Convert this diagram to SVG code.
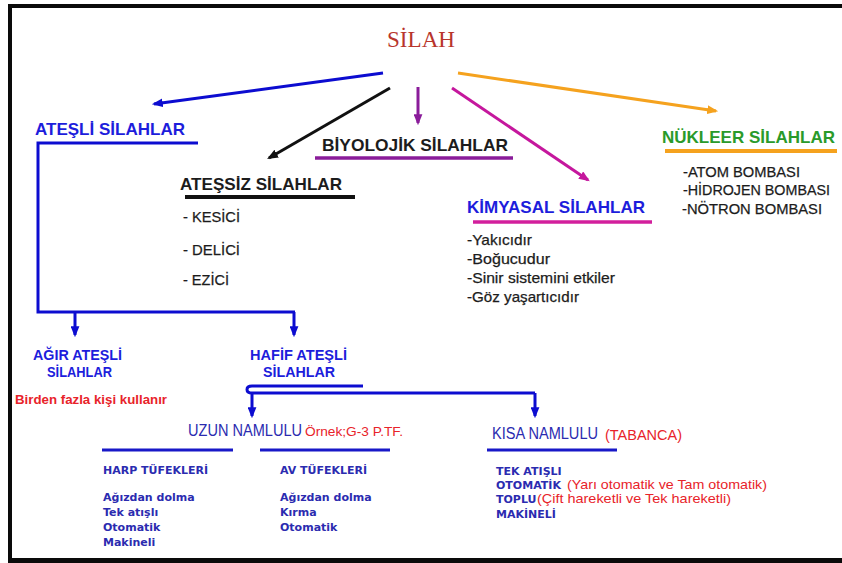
<svg xmlns="http://www.w3.org/2000/svg" width="842" height="563" viewBox="0 0 842 563">
<defs>
<style>
.t{font-family:"Liberation Sans",Arial,sans-serif}
.b{font-weight:bold}
.v{font-family:"DejaVu Sans",Verdana,sans-serif;font-weight:bold;font-size:11px}
.blue{fill:#1d1ddc}
.nav{fill:#2b2bb0}
.dk{fill:#1c1c1c}
.red{fill:#e8232a}
.ln{fill:none;stroke-width:3}
.semi{stroke:#1c1c1c;stroke-width:0.25}
</style>
<marker id="mBlue" viewBox="0 0 10 8" refX="8" refY="4" markerWidth="11" markerHeight="9" markerUnits="userSpaceOnUse" orient="auto"><path d="M0,0 L10,4 L0,8 z" fill="#0c0cd0"/></marker>
<marker id="mBlack" viewBox="0 0 10 8" refX="8" refY="4" markerWidth="11" markerHeight="9" markerUnits="userSpaceOnUse" orient="auto"><path d="M0,0 L10,4 L0,8 z" fill="#111"/></marker>
<marker id="mPurple" viewBox="0 0 10 8" refX="8" refY="4" markerWidth="11" markerHeight="9" markerUnits="userSpaceOnUse" orient="auto"><path d="M0,0 L10,4 L0,8 z" fill="#8a1c9a"/></marker>
<marker id="mMag" viewBox="0 0 10 8" refX="8" refY="4" markerWidth="11" markerHeight="9" markerUnits="userSpaceOnUse" orient="auto"><path d="M0,0 L10,4 L0,8 z" fill="#c5179d"/></marker>
<marker id="mOr" viewBox="0 0 10 8" refX="8" refY="4" markerWidth="11" markerHeight="9" markerUnits="userSpaceOnUse" orient="auto"><path d="M0,0 L10,4 L0,8 z" fill="#f5a21e"/></marker>
</defs>
<rect width="842" height="563" fill="#fff"/>
<g id="frame" fill="#0a0a0a">
<rect x="8" y="4" width="834" height="4"/>
<rect x="8" y="4" width="4" height="559"/>
<rect x="8" y="558" width="834" height="5"/>
</g>

<g id="connectors">
<path class="ln" stroke="#0c0cd0" d="M383,73 L154,104" marker-end="url(#mBlue)"/>
<path class="ln" stroke="#111" d="M390,88 L269,158" marker-end="url(#mBlack)"/>
<path class="ln" stroke="#8a1c9a" d="M418,87 V123" marker-end="url(#mPurple)"/>
<path class="ln" stroke="#c5179d" d="M452,88 L588,180" marker-end="url(#mMag)"/>
<path class="ln" stroke="#f5a21e" d="M458,73 L716,111" marker-end="url(#mOr)"/>
<path class="ln" stroke="#0c0cd0" d="M198,143 H38 V312 H295"/>
<path class="ln" stroke="#0c0cd0" d="M75,312 V335" marker-end="url(#mBlue)"/>
<path class="ln" stroke="#0c0cd0" d="M294,312 V335" marker-end="url(#mBlue)"/>
<path class="ln" stroke="#0c0cd0" d="M363,386 H252 Q247,386 247,389.5 Q247,393 252,393 H535"/>
<path class="ln" stroke="#0c0cd0" d="M252,393 V416" marker-end="url(#mBlue)"/>
<path class="ln" stroke="#0c0cd0" d="M535,393 V416" marker-end="url(#mBlue)"/>
</g>

<g id="silah">
<text x="387" y="47" font-family="'Liberation Serif','Times New Roman',serif" font-size="23" fill="#b8352c" textLength="68" lengthAdjust="spacingAndGlyphs">SİLAH</text>
</g>

<g id="atesli">
<text class="t b blue" x="35" y="135" font-size="17" textLength="150" lengthAdjust="spacingAndGlyphs">ATEŞLİ SİLAHLAR</text>
</g>

<g id="biyolojik">
<text class="t b dk" x="322" y="151" font-size="17" textLength="186" lengthAdjust="spacingAndGlyphs">BİYOLOJİK SİLAHLAR</text>
<path d="M315,158 H513" stroke="#8a1c9a" stroke-width="3.5"/>
</g>

<g id="atessiz">
<text class="t b dk" x="180" y="190" font-size="17" textLength="162" lengthAdjust="spacingAndGlyphs">ATEŞSİZ SİLAHLAR</text>
<path d="M185,197 H355" stroke="#111" stroke-width="4"/>
<text class="t dk semi" x="183" y="222" font-size="15" textLength="57" lengthAdjust="spacingAndGlyphs">- KESİCİ</text>
<text class="t dk semi" x="183" y="255" font-size="15" textLength="57" lengthAdjust="spacingAndGlyphs">- DELİCİ</text>
<text class="t dk semi" x="183" y="285" font-size="15" textLength="46" lengthAdjust="spacingAndGlyphs">- EZİCİ</text>
</g>

<g id="kimyasal">
<text class="t b blue" x="467" y="213" font-size="17" textLength="178" lengthAdjust="spacingAndGlyphs">KİMYASAL SİLAHLAR</text>
<path d="M473,222 H652" stroke="#d21f9c" stroke-width="3.5"/>
<text class="t dk semi" x="467" y="245" font-size="15" textLength="65" lengthAdjust="spacingAndGlyphs">-Yakıcıdır</text>
<text class="t dk semi" x="467" y="264" font-size="15" textLength="83" lengthAdjust="spacingAndGlyphs">-Boğucudur</text>
<text class="t dk semi" x="467" y="283" font-size="15" textLength="148" lengthAdjust="spacingAndGlyphs">-Sinir sistemini etkiler</text>
<text class="t dk semi" x="467" y="302" font-size="15" textLength="112" lengthAdjust="spacingAndGlyphs">-Göz yaşartıcıdır</text>
</g>

<g id="nukleer">
<text class="t b" x="662" y="143" font-size="17" fill="#2a9a2a" textLength="173" lengthAdjust="spacingAndGlyphs">NÜKLEER SİLAHLAR</text>
<path d="M665,151 H837" stroke="#f5a21e" stroke-width="4"/>
<text class="t dk semi" x="683" y="177" font-size="15" textLength="117" lengthAdjust="spacingAndGlyphs">-ATOM BOMBASI</text>
<text class="t dk semi" x="683" y="195" font-size="15" textLength="147" lengthAdjust="spacingAndGlyphs">-HİDROJEN BOMBASI</text>
<text class="t dk semi" x="682" y="214" font-size="15" textLength="140" lengthAdjust="spacingAndGlyphs">-NÖTRON BOMBASI</text>
</g>

<g id="agir">
<text class="t b blue" x="33" y="360" font-size="15" textLength="89" lengthAdjust="spacingAndGlyphs">AĞIR ATEŞLİ</text>
<text class="t b blue" x="47" y="377" font-size="15" textLength="65" lengthAdjust="spacingAndGlyphs">SİLAHLAR</text>
<text class="t b red" x="15" y="404" font-size="13" textLength="152" lengthAdjust="spacingAndGlyphs">Birden fazla kişi kullanır</text>
</g>

<g id="hafif">
<text class="t b blue" x="250" y="360" font-size="15" textLength="97" lengthAdjust="spacingAndGlyphs">HAFİF ATEŞLİ</text>
<text class="t b blue" x="263" y="377" font-size="15" textLength="72" lengthAdjust="spacingAndGlyphs">SİLAHLAR</text>
</g>

<g id="uzun">
<text class="t nav" x="188" y="436" font-size="16" textLength="114" lengthAdjust="spacingAndGlyphs">UZUN NAMLULU</text>
<text class="t red" x="305" y="436" font-size="13" textLength="98" lengthAdjust="spacingAndGlyphs">Örnek;G-3 P.TF.</text>
</g>

<g id="harp">
<path d="M102,450 H233" stroke="#1818c8" stroke-width="3"/>
<text class="v nav" x="103" y="474">HARP TÜFEKLERİ</text>
<text class="v nav" x="103" y="501">Ağızdan dolma</text>
<text class="v nav" x="103" y="516">Tek atışlı</text>
<text class="v nav" x="103" y="531">Otomatik</text>
<text class="v nav" x="103" y="546">Makineli</text>
</g>

<g id="av">
<path d="M260,450 H390" stroke="#1818c8" stroke-width="3"/>
<text class="v nav" x="280" y="474">AV TÜFEKLERİ</text>
<text class="v nav" x="280" y="501">Ağızdan dolma</text>
<text class="v nav" x="280" y="516">Kırma</text>
<text class="v nav" x="280" y="531">Otomatik</text>
</g>

<g id="kisa">
<text class="t nav" x="492" y="439" font-size="16" textLength="106" lengthAdjust="spacingAndGlyphs">KISA NAMLULU</text>
<text class="t red" x="605" y="440" font-size="14" textLength="77" lengthAdjust="spacingAndGlyphs">(TABANCA)</text>
<path d="M487,450 H617" stroke="#1818c8" stroke-width="3"/>
<text class="v nav" x="496" y="475">TEK ATIŞLI</text>
<text class="v nav" x="496" y="489">OTOMATİK</text>
<text class="t red" x="567" y="489" font-size="13" textLength="200" lengthAdjust="spacingAndGlyphs">(Yarı otomatik ve Tam otomatik)</text>
<text class="v nav" x="496" y="503">TOPLU</text>
<text class="t red" x="537" y="503" font-size="13" textLength="194" lengthAdjust="spacingAndGlyphs">(Çift hareketli ve Tek hareketli)</text>
<text class="v nav" x="496" y="518">MAKİNELİ</text>
</g>
</svg>
